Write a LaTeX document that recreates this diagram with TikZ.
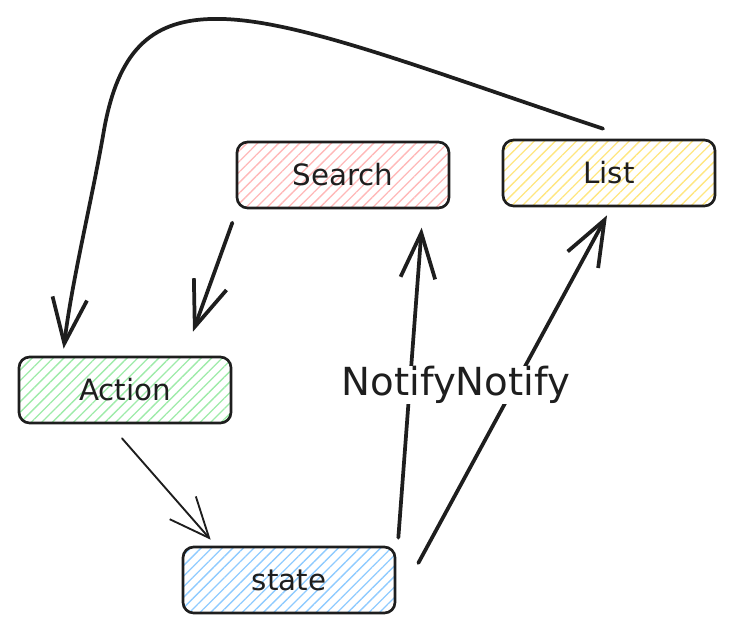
\documentclass[tikz,border=0pt]{standalone}
\usepackage{fontspec}
\setmainfont{DejaVu Sans}
\usetikzlibrary{arrows.meta,patterns.meta}
\definecolor{ink}{HTML}{1E1E1E}
\definecolor{hpink}{HTML}{FFB8B8}
\definecolor{hyellow}{HTML}{FFE680}
\definecolor{hgreen}{HTML}{9EEBA9}
\definecolor{hblue}{HTML}{8FCBFF}
\begin{document}
\begin{tikzpicture}[x=0.75pt,y=-0.75pt,
  box/.style={draw=ink,line width=2pt,rounded corners=8pt,minimum width=159pt,
    minimum height=49.5pt,inner sep=0pt,text=ink,font=\fontsize{22}{26}\selectfont,
    pattern={Lines[angle=45,distance=5.6pt,line width=1pt]},pattern color=#1},
  conn/.style={draw=ink,line width=2.8pt,line cap=round,line join=round,
    -{Straight Barb[length=34pt,width=26pt]}},
  thinconn/.style={draw=ink,line width=1.4pt,line cap=round,
    -{Straight Barb[length=30pt,width=26pt]}},
  lbl/.style={fill=white,inner sep=0pt,text=ink,font=\fontsize{29}{33}\selectfont}
]
\useasboundingbox (0,0) rectangle (734,633);

\node[box=hpink]   (search) at (343,175) {Search};
\node[box=hyellow] (list)   at (609,173) {List};
\node[box=hgreen]  (action) at (125,390) {Action};
\node[box=hblue]   (state)  at (289,580) {state};

% List -> Action (big curve)
\draw[conn] ([shift={(-6,-10)}]list.north)
  .. controls (420,68) and (290,16) .. (210,19)
  .. controls (150,21) and (118,52) .. (104,130)
  .. controls (92,200) and (72,280) .. ([shift={(46,-7)}]action.north west);

% Search -> Action
\draw[conn] ([shift={(-4,14)}]search.south west) -- ([shift={(68,-24)}]action.north);

% Action -> state
\draw[thinconn] ([shift={(-3,14)}]action.south) -- ([shift={(29,-6)}]state.north west);

% state -> Search
\draw[conn] ([shift={(2,-8)}]state.north east) -- ([shift={(-28,19)}]search.south east);
\node[lbl] (n1) at (399,385) {Notify};

% state -> List
\draw[conn] ([shift={(22,-17)}]state.east) -- ([shift={(-2,8)}]list.south);
\node[lbl] (n2) at (513,385) {Notify};
\end{tikzpicture}
\end{document}
